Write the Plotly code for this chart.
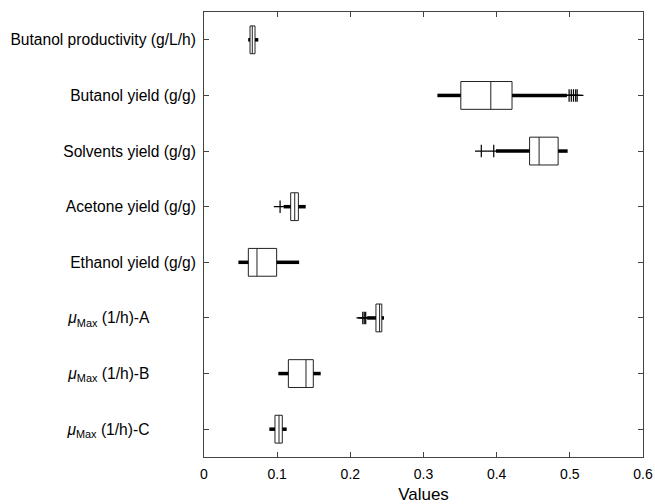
import plotly.graph_objects as go

categories = [
    "Butanol productivity (g/L/h)",
    "Butanol yield (g/g)",
    "Solvents yield (g/g)",
    "Acetone yield (g/g)",
    "Ethanol yield (g/g)",
    "<i>μ</i><sub>Max</sub> (1/h)-A",
    "<i>μ</i><sub>Max</sub> (1/h)-B",
    "<i>μ</i><sub>Max</sub> (1/h)-C",
]
lower_whisker = [0.0604, 0.319, 0.399, 0.109, 0.047, 0.223, 0.1016, 0.0893]
q1 = [0.0629, 0.351, 0.445, 0.1185, 0.0606, 0.235, 0.1153, 0.0970]
median = [0.0660, 0.392, 0.458, 0.1240, 0.0724, 0.240, 0.1394, 0.1025]
q3 = [0.0697, 0.421, 0.484, 0.1290, 0.0993, 0.243, 0.1494, 0.1070]
upper_whisker = [0.0742, 0.496, 0.497, 0.139, 0.130, 0.246, 0.1595, 0.1130]
outliers = {
    "Butanol yield (g/g)": [0.499, 0.502, 0.505, 0.508, 0.510],
    "Solvents yield (g/g)": [0.379, 0.396],
    "Acetone yield (g/g)": [0.104],
    "<i>μ</i><sub>Max</sub> (1/h)-A": [0.217, 0.219, 0.221],
}
x_ticks = [0, 0.1, 0.2, 0.3, 0.4, 0.5, 0.6]
x_tick_labels = ["0", "0.1", "0.2", "0.3", "0.4", "0.5", "0.6"]

# tick text: the TeX-style labels sit further left in the original
pad = "\u00a0" * 10 + "\u2009"
y_tick_text = [c + pad if c.startswith("<i>") else c for c in categories]

fig = go.Figure()

# thick whiskers
wx, wy = [], []
for c, lw, a, b, uw in zip(categories, lower_whisker, q1, q3, upper_whisker):
    wx += [lw, a, None, b, uw, None]
    wy += [c, c, None, c, c, None]
fig.add_trace(go.Scatter(x=wx, y=wy, mode="lines", line=dict(color="black", width=3.5),
                         hoverinfo="skip", showlegend=False))

# boxes
fig.add_trace(go.Box(
    y=categories, q1=q1, median=median, q3=q3,
    lowerfence=q1, upperfence=q3,
    orientation="h", width=0.5, whiskerwidth=0,
    fillcolor="white", line=dict(color="#222222", width=1),
    boxpoints=False, showlegend=False,
))

# outliers
ox, oy = [], []
for c, vals in outliers.items():
    ox += vals
    oy += [c] * len(vals)
fig.add_trace(go.Scatter(x=ox, y=oy, mode="markers",
                         marker=dict(symbol="cross-thin", size=9, color="black",
                                     line=dict(color="black", width=1.2)),
                         showlegend=False))

fig.update_layout(
    width=655, height=504,
    margin=dict(l=204, r=12, t=12, b=47),
    plot_bgcolor="white", paper_bgcolor="white",
    font=dict(family="Liberation Sans, Arial, sans-serif", size=15.6, color="black"),
)
fig.update_xaxes(
    range=[0, 0.6], tickvals=x_ticks, ticktext=x_tick_labels,
    tickfont=dict(size=14),
    showgrid=False, zeroline=False, automargin=False,
    showline=True, linecolor="#444444", linewidth=1, mirror="ticks",
    ticks="inside", ticklen=5, tickcolor="#444444",
    ticklabelstandoff=4,
    title=dict(text="Values", font=dict(size=17), standoff=9),
)
fig.update_yaxes(
    type="category", categoryorder="array", categoryarray=categories,
    tickvals=categories, ticktext=y_tick_text,
    showgrid=False, zeroline=False, automargin=False,
    showline=True, linecolor="#444444", linewidth=1, mirror="ticks",
    ticks="inside", ticklen=5, tickcolor="#444444",
    ticklabelstandoff=4,
    range=[7.5, -0.5], autorange=False,
)

fig.write_html(
    "out.html",
    config={"displayModeBar": False},
    post_script="document.body.style.margin='0';document.body.style.overflow='hidden';",
)
